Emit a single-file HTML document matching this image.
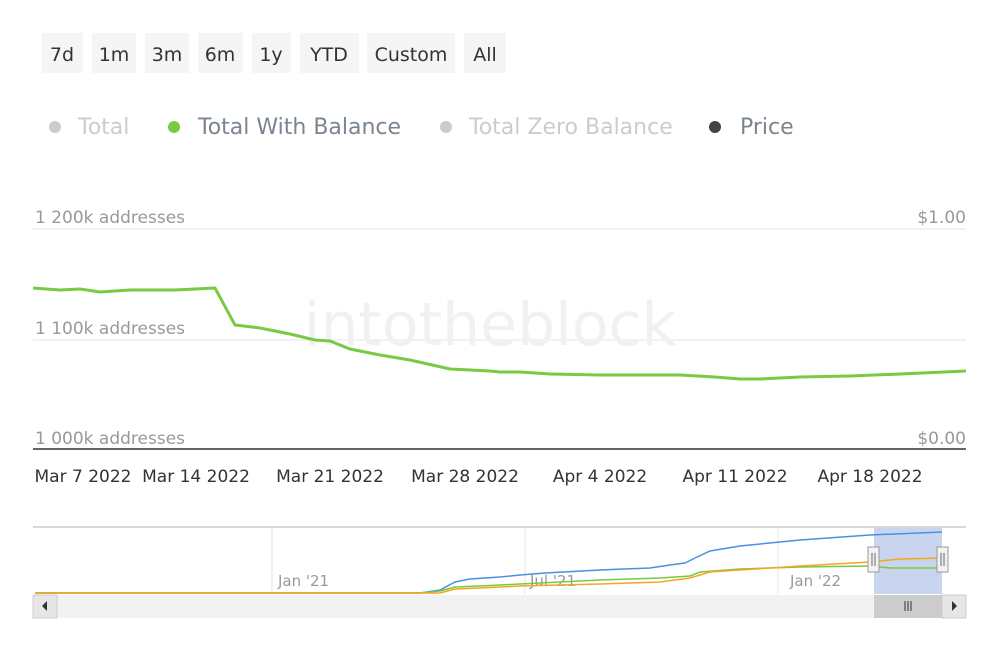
<!DOCTYPE html><html><head><style>body{margin:0;background:#fff;font-family:"DejaVu Sans","Liberation Sans",sans-serif}</style></head><body>
<svg width="1000" height="667" xmlns="http://www.w3.org/2000/svg" font-family="DejaVu Sans, Liberation Sans, sans-serif">
<g fill="#f5f5f5"><rect x="42" y="33" width="41" height="40"/><rect x="92" y="33" width="44" height="40"/><rect x="145" y="33" width="44" height="40"/><rect x="198" y="33" width="45" height="40"/><rect x="252" y="33" width="39" height="40"/><rect x="300" y="33" width="59" height="40"/><rect x="367" y="33" width="88" height="40"/><rect x="464" y="33" width="42" height="40"/></g>
<g fill="#333" font-size="19" text-anchor="middle"><text x="62" y="61">7d</text><text x="114" y="61">1m</text><text x="167" y="61">3m</text><text x="220" y="61">6m</text><text x="271" y="61">1y</text><text x="329" y="61">YTD</text><text x="411" y="61">Custom</text><text x="485" y="61">All</text></g>
<g font-size="22"><circle cx="55" cy="127" r="6" fill="#ccc"/><text x="78" y="134" fill="#ccc">Total</text>
<circle cx="174" cy="127" r="6" fill="#7ac943"/><text x="198" y="134" fill="#7a8590">Total With Balance</text>
<circle cx="446" cy="127" r="6" fill="#ccc"/><text x="469" y="134" fill="#ccc">Total Zero Balance</text>
<circle cx="715" cy="127" r="6" fill="#444"/><text x="740" y="134" fill="#7a8590">Price</text></g>
<line x1="33" y1="229" x2="966" y2="229" stroke="#e6e6e6"/><line x1="33" y1="340" x2="966" y2="340" stroke="#e6e6e6"/><line x1="33" y1="449" x2="966" y2="449" stroke="#333" stroke-width="1.5"/>
<text x="490" y="345" font-size="60" fill="#f1f1f1" text-anchor="middle">intotheblock</text>
<g font-size="17" fill="#999"><text x="35" y="223">1 200k addresses</text><text x="35" y="334">1 100k addresses</text><text x="35" y="444">1 000k addresses</text><text x="966" y="223" text-anchor="end">$1.00</text><text x="966" y="444" text-anchor="end">$0.00</text></g>
<polyline fill="none" stroke="#7ac943" stroke-width="3" points="33,288 60,290 80,289 100,292 130,290 175,290 195,289 215,288 235,325 260,328 290,334 315,340 330,341 350,349 380,355 410,360 450,369 490,371 500,372 520,372 550,374 600,375 680,375 715,377 740,379 760,379 800,377 850,376 900,374 966,371"/>
<g font-size="17" fill="#333" text-anchor="middle"><text x="83" y="482">Mar 7 2022</text><text x="196" y="482">Mar 14 2022</text><text x="330" y="482">Mar 21 2022</text><text x="465" y="482">Mar 28 2022</text><text x="600" y="482">Apr 4 2022</text><text x="735" y="482">Apr 11 2022</text><text x="870" y="482">Apr 18 2022</text></g>
<line x1="33" y1="527" x2="966" y2="527" stroke="#ccc" stroke-width="1.5"/>
<g stroke="#e6e6e6"><line x1="272" y1="528" x2="272" y2="594"/><line x1="525" y1="528" x2="525" y2="594"/><line x1="778" y1="528" x2="778" y2="594"/></g>
<rect x="874" y="528" width="68" height="66" fill="#c9d5ee"/>
<g font-size="15" fill="#999"><text x="278" y="586">Jan '21</text><text x="530" y="586">Jul '21</text><text x="790" y="586">Jan '22</text></g>
<polyline fill="none" stroke="#4a90e2" stroke-width="1.5" points="35,593 420,593 440,590 455,582 470,579 500,577 520,575 545,573 600,570 650,568 670,565 685,563 695,558 710,551 740,546 800,540 870,535 942,532"/>
<polyline fill="none" stroke="#7ac943" stroke-width="1.5" points="35,593 420,593 440,591 455,587 480,586 520,584 600,580 660,578 690,576 700,572 740,569 800,567 870,566 890,568 942,568"/>
<polyline fill="none" stroke="#f5a623" stroke-width="1.5" points="35,593 440,593 455,589 480,588 520,586 600,584 660,582 690,578 710,572 740,570 800,566 870,562 900,559 942,558"/>
<rect x="868" y="547" width="11" height="25" fill="#f2f2f2" stroke="#999"/><rect x="937" y="547" width="11" height="25" fill="#f2f2f2" stroke="#999"/>
<g stroke="#666"><line x1="872" y1="553" x2="872" y2="566"/><line x1="875" y1="553" x2="875" y2="566"/><line x1="941" y1="553" x2="941" y2="566"/><line x1="944" y1="553" x2="944" y2="566"/></g>
<rect x="33" y="595" width="933" height="23" fill="#f2f2f2"/>
<rect x="33" y="595" width="24" height="23" fill="#e6e6e6" stroke="#ccc"/><rect x="942" y="595" width="24" height="23" fill="#e6e6e6" stroke="#ccc"/>
<rect x="874" y="595" width="68" height="23" fill="#ccc"/>
<path d="M47,601 L42,606 L47,611Z" fill="#333"/><path d="M952,601 L957,606 L952,611Z" fill="#333"/>
<g stroke="#333"><line x1="905" y1="601" x2="905" y2="611"/><line x1="908" y1="601" x2="908" y2="611"/><line x1="911" y1="601" x2="911" y2="611"/></g>
</svg></body></html>
